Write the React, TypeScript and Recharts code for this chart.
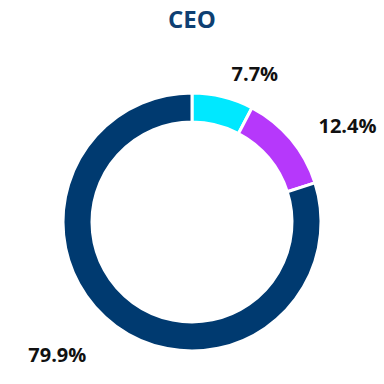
import { Cell, Pie, PieChart } from "recharts";

const sliceNames = ["Slice 1", "Slice 2", "Slice 3"];
const shares = [7.7, 12.4, 79.9];

const COLORS = ["#00E8FF", "#B638FB", "#003A70"];
const TITLE_COLOR = "#0E3F72";
const FONT = "'Open Sans', 'Noto Sans', sans-serif";

const data = shares.map((value, i) => ({ name: sliceNames[i], value }));

const RADIAN = Math.PI / 180;

// labels sit outside the ring, anchored away from the centre
function renderLabel(props: any) {
  const { cx, cy, midAngle, outerRadius, value } = props;
  const cos = Math.cos(-midAngle * RADIAN);
  const sin = Math.sin(-midAngle * RADIAN);
  const x = cx + (outerRadius + (cos >= 0 ? 36 : 50)) * cos;
  const y = cy + (outerRadius + 29) * sin + 5;
  return (
    <text
      x={x}
      y={y}
      textAnchor={cos >= 0 ? "start" : "end"}
      dominantBaseline="central"
      fill="#111"
      fontFamily={FONT}
      fontWeight={700}
      fontSize={20}
    >
      {`${value.toFixed(1)}%`}
    </text>
  );
}

export default function App() {
  return (
    <div style={{ position: "relative", width: 384, height: 384 }}>
      <style>{`body { margin: 0; }`}</style>
      <div
        style={{
          position: "absolute",
          top: 3,
          left: 0,
          width: 384,
          textAlign: "center",
          fontFamily: FONT,
          fontWeight: 700,
          fontSize: 24,
          color: TITLE_COLOR,
          lineHeight: "32px",
        }}
      >
        CEO
      </div>
      <PieChart width={384} height={384} margin={{ top: 0, right: 0, bottom: 0, left: 0 }}>
        <Pie
          data={data}
          dataKey="value"
          cx={192}
          cy={222}
          innerRadius={100}
          outerRadius={129}
          startAngle={90}
          endAngle={-270}
          stroke="#ffffff"
          strokeWidth={3}
          label={renderLabel}
          labelLine={false}
          isAnimationActive={false}
        >
          {data.map((d, i) => (
            <Cell key={d.name} fill={COLORS[i]} />
          ))}
        </Pie>
      </PieChart>
    </div>
  );
}
